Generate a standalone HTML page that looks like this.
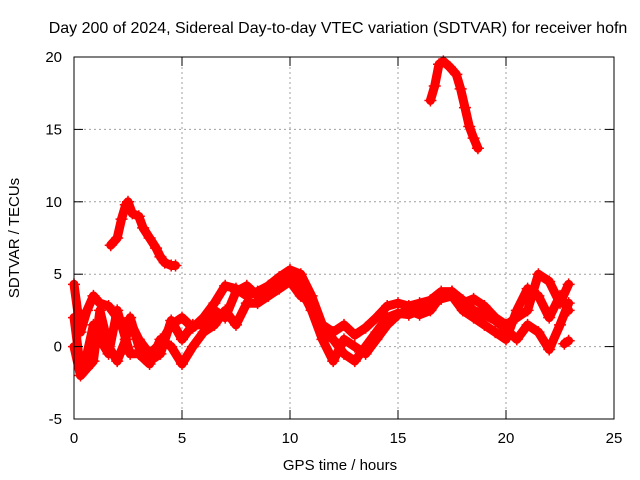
<!DOCTYPE html>
<html><head><meta charset="utf-8"><style>
body{margin:0;background:#fff}
svg{display:block;font-family:"Liberation Sans",sans-serif}
</style></head><body>
<svg id="chart" width="640" height="480" viewBox="0 0 640 480">
<rect width="640" height="480" fill="#fff"/>
<text x="338" y="33" font-size="16" text-anchor="middle">Day 200 of 2024, Sidereal Day-to-day VTEC variation (SDTVAR) for receiver hofn</text>
<g id="grid"></g>
<g id="series"></g>
<rect x="74" y="57" width="540" height="362" fill="none" stroke="#000" stroke-width="1"/>
<g id="axes"></g>
<text x="340" y="470" font-size="15" text-anchor="middle">GPS time / hours</text>
<text transform="translate(19,238) rotate(-90)" font-size="15" text-anchor="middle">SDTVAR / TECUs</text>
</svg>
<script>
const xTicks=[0,5,10,15,20,25];
const yTicks=[-5,0,5,10,15,20];
const trackAx=[1.7,2.0,2.2,2.4,2.5,2.7,3.0,3.2,3.5,3.8,4.0,4.2,4.5,4.7];
const trackAy=[7.0,7.5,8.8,9.8,10.0,9.2,9.0,8.2,7.5,6.8,6.2,5.8,5.6,5.6];
const trackBx=[16.5,16.7,16.9,17.1,17.4,17.7,17.9,18.1,18.3,18.5,18.7];
const trackBy=[17.0,18.0,19.5,19.7,19.3,18.8,17.8,16.5,15.2,14.4,13.7];
const mainX=[0,0.3,0.6,0.9,1.2,1.6,2.0,2.4,2.6,3.0,3.5,4.0,4.5,5.0,5.5,6.0,6.5,7.0,7.5,8.0,8.5,9.0,9.5,10.0,10.5,11.0,11.5,12.0,12.5,13.0,13.5,14.0,14.5,15.0,15.5,16.0,16.5,17.0,17.5,18.0,18.5,19.0,19.5,20.0,20.5,21.0,21.5,22.0,22.5,22.9];
const trackCy=[4.3,1.0,2.5,3.5,3.0,2.8,2.0,1.5,1.7,0.5,-0.5,0.2,1.5,2.0,1.3,2.0,3.0,4.2,4.0,3.5,3.8,4.2,4.8,5.3,5.0,3.5,1.5,1.0,1.5,0.8,1.3,2.0,2.8,3.0,2.8,3.0,3.2,3.8,3.8,3.0,3.3,2.8,2.0,1.5,2.0,2.5,5.0,4.5,3.0,4.3];
const trackDy=[2.0,-1.5,-0.5,1.5,0.5,-0.5,2.5,0.5,2.0,0.0,-1.0,-0.5,1.8,0.5,1.5,1.5,2.5,2.0,3.8,4.2,3.5,4.0,4.5,5.0,4.0,2.5,0.5,-1.0,0.5,0.0,-0.5,0.5,1.5,2.2,2.5,2.2,2.5,3.5,3.8,3.2,2.5,2.2,1.8,1.2,0.5,1.5,1.0,-0.2,1.5,3.0];
const trackEy=[0.0,-2.0,-1.5,-1.0,2.5,0.0,-1.0,0.5,-0.5,-0.5,-1.2,0.5,0.0,-1.2,0.0,1.0,1.5,2.5,1.5,3.0,3.0,3.5,4.0,4.5,3.5,3.0,1.0,0.5,-0.5,-1.0,0.0,1.0,2.0,2.3,2.2,2.5,3.0,3.3,3.5,2.5,2.0,1.5,1.0,0.5,2.5,4.0,3.5,2.0,3.5,2.5];
const trackFx=[22.7,22.9];
const trackFy=[0.2,0.4];

const NS="http://www.w3.org/2000/svg";
function sx(h){return 74+h*21.6;}
function sy(v){return 346.6-v*14.48;}
const grid=document.getElementById('grid'),axes=document.getElementById('axes'),ser=document.getElementById('series');
function mk(tag,attrs,parent){const e=document.createElementNS(NS,tag);for(const k in attrs)e.setAttribute(k,attrs[k]);parent.appendChild(e);return e;}
xTicks.forEach(t=>{
  const x=sx(t);
  if(t>0&&t<25){const g=mk('line',{x1:x,x2:x,y1:57,y2:419,stroke:'#a0a0a0','stroke-dasharray':'2,3'},grid);
  
  }
  mk('line',{x1:x,x2:x,y1:419,y2:410,stroke:'#000'},axes);
  mk('line',{x1:x,x2:x,y1:57,y2:66,stroke:'#000'},axes);
  const l=mk('text',{x:x,y:443,'font-size':'15','text-anchor':'middle'},axes);l.textContent=t;
  
  
});
yTicks.forEach(t=>{
  const y=sy(t);
  if(t>-5&&t<20){const g=mk('line',{x1:74,x2:614,y1:y,y2:y,stroke:'#a0a0a0','stroke-dasharray':'2,3'},grid);
  
  }
  mk('line',{x1:74,x2:83,y1:y,y2:y,stroke:'#000'},axes);
  mk('line',{x1:605,x2:614,y1:y,y2:y,stroke:'#000'},axes);
  const l=mk('text',{x:62,y:y+5,'font-size':'15','text-anchor':'end'},axes);l.textContent=t;
  
  
});
function track(xs,ys,name){
  const pts=xs.map((x,i)=>sx(x).toFixed(1)+','+sy(ys[i]).toFixed(1)).join(' ');
  const p=mk('polyline',{points:pts,fill:'none',stroke:'#ff0000','stroke-width':'9','stroke-linejoin':'round','stroke-linecap':'round'},ser);
  
  
  xs.forEach((x,i)=>{
    const cx=sx(x),cy=sy(ys[i]);
    const m=mk('path',{d:`M${cx-6},${cy}h12M${cx},${cy-6}v12`,stroke:'#ff0000','stroke-width':'1.5'},ser);
    
    
  });
}
track(trackAx,trackAy,'track-a');
track(trackBx,trackBy,'track-b');
track(mainX,trackCy,'track-c');
track(mainX,trackDy,'track-d');
track(mainX,trackEy,'track-e');
track(trackFx,trackFy,'track-f');
</script>
</body></html>
